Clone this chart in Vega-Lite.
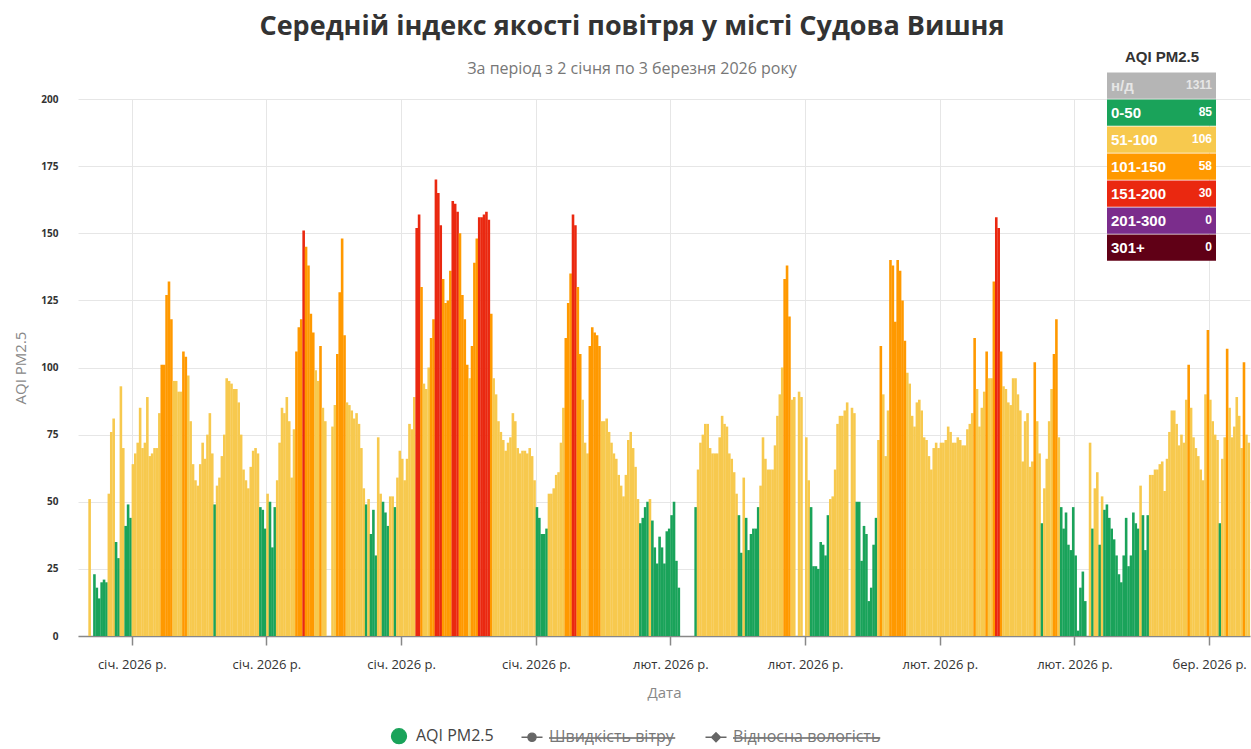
{
"$schema":"https://vega.github.io/schema/vega-lite/v6.json",
"width":1172,"height":537,
"autosize":{"type":"none"},
"padding":{"left":78,"top":99,"right":1,"bottom":113},
"background":"white",
"title":{"text":"Середній індекс якості повітря у місті Судова Вишня","subtitle":"За період з 2 січня по 3 березня 2026 року","anchor":"middle","frame":"bounds","font":"Open Sans","fontSize":27,"fontWeight":"bold","color":"#333333","subtitleFont":"Open Sans","subtitleFontSize":16,"subtitleColor":"#777777","subtitlePadding":20,"offset":-28},
"data":{"values":[
{"t":"2026-01-02T18:00","v":51,"c":"51-100"},
{"t":"2026-01-03T00:00","v":23,"c":"0-50"},{"t":"2026-01-03T03:00","v":18,"c":"0-50"},{"t":"2026-01-03T06:00","v":14,"c":"0-50"},{"t":"2026-01-03T09:00","v":20,"c":"0-50"},{"t":"2026-01-03T12:00","v":21,"c":"0-50"},{"t":"2026-01-03T15:00","v":20,"c":"0-50"},{"t":"2026-01-03T18:00","v":53,"c":"51-100"},{"t":"2026-01-03T21:00","v":76,"c":"51-100"},
{"t":"2026-01-04T00:00","v":81,"c":"51-100"},{"t":"2026-01-04T03:00","v":35,"c":"0-50"},{"t":"2026-01-04T06:00","v":29,"c":"0-50"},{"t":"2026-01-04T09:00","v":93,"c":"51-100"},{"t":"2026-01-04T12:00","v":70,"c":"51-100"},{"t":"2026-01-04T15:00","v":41,"c":"0-50"},{"t":"2026-01-04T18:00","v":49,"c":"0-50"},{"t":"2026-01-04T21:00","v":44,"c":"0-50"},
{"t":"2026-01-05T00:00","v":64,"c":"51-100"},{"t":"2026-01-05T03:00","v":68,"c":"51-100"},{"t":"2026-01-05T06:00","v":72,"c":"51-100"},{"t":"2026-01-05T09:00","v":85,"c":"51-100"},{"t":"2026-01-05T12:00","v":70,"c":"51-100"},{"t":"2026-01-05T15:00","v":72,"c":"51-100"},{"t":"2026-01-05T18:00","v":89,"c":"51-100"},{"t":"2026-01-05T21:00","v":67,"c":"51-100"},
{"t":"2026-01-06T00:00","v":68,"c":"51-100"},{"t":"2026-01-06T03:00","v":70,"c":"51-100"},{"t":"2026-01-06T06:00","v":70,"c":"51-100"},{"t":"2026-01-06T09:00","v":83,"c":"51-100"},{"t":"2026-01-06T12:00","v":101,"c":"101-150"},{"t":"2026-01-06T15:00","v":101,"c":"101-150"},{"t":"2026-01-06T18:00","v":127,"c":"101-150"},{"t":"2026-01-06T21:00","v":132,"c":"101-150"},
{"t":"2026-01-07T00:00","v":118,"c":"101-150"},{"t":"2026-01-07T03:00","v":95,"c":"51-100"},{"t":"2026-01-07T06:00","v":95,"c":"51-100"},{"t":"2026-01-07T09:00","v":91,"c":"51-100"},{"t":"2026-01-07T12:00","v":91,"c":"51-100"},{"t":"2026-01-07T15:00","v":106,"c":"101-150"},{"t":"2026-01-07T18:00","v":104,"c":"101-150"},{"t":"2026-01-07T21:00","v":97,"c":"51-100"},
{"t":"2026-01-08T00:00","v":80,"c":"51-100"},{"t":"2026-01-08T03:00","v":64,"c":"51-100"},{"t":"2026-01-08T06:00","v":58,"c":"51-100"},{"t":"2026-01-08T09:00","v":56,"c":"51-100"},{"t":"2026-01-08T12:00","v":64,"c":"51-100"},{"t":"2026-01-08T15:00","v":72,"c":"51-100"},{"t":"2026-01-08T18:00","v":66,"c":"51-100"},{"t":"2026-01-08T21:00","v":75,"c":"51-100"},
{"t":"2026-01-09T00:00","v":83,"c":"51-100"},{"t":"2026-01-09T03:00","v":68,"c":"51-100"},{"t":"2026-01-09T06:00","v":49,"c":"0-50"},{"t":"2026-01-09T09:00","v":56,"c":"51-100"},{"t":"2026-01-09T12:00","v":59,"c":"51-100"},{"t":"2026-01-09T15:00","v":67,"c":"51-100"},{"t":"2026-01-09T18:00","v":75,"c":"51-100"},{"t":"2026-01-09T21:00","v":96,"c":"51-100"},
{"t":"2026-01-10T00:00","v":95,"c":"51-100"},{"t":"2026-01-10T03:00","v":94,"c":"51-100"},{"t":"2026-01-10T06:00","v":92,"c":"51-100"},{"t":"2026-01-10T09:00","v":92,"c":"51-100"},{"t":"2026-01-10T12:00","v":87,"c":"51-100"},{"t":"2026-01-10T15:00","v":75,"c":"51-100"},{"t":"2026-01-10T18:00","v":62,"c":"51-100"},{"t":"2026-01-10T21:00","v":58,"c":"51-100"},
{"t":"2026-01-11T00:00","v":55,"c":"51-100"},{"t":"2026-01-11T03:00","v":63,"c":"51-100"},{"t":"2026-01-11T06:00","v":69,"c":"51-100"},{"t":"2026-01-11T09:00","v":70,"c":"51-100"},{"t":"2026-01-11T12:00","v":68,"c":"51-100"},{"t":"2026-01-11T15:00","v":48,"c":"0-50"},{"t":"2026-01-11T18:00","v":47,"c":"0-50"},{"t":"2026-01-11T21:00","v":40,"c":"0-50"},
{"t":"2026-01-12T00:00","v":53,"c":"51-100"},{"t":"2026-01-12T03:00","v":50,"c":"0-50"},{"t":"2026-01-12T06:00","v":33,"c":"0-50"},{"t":"2026-01-12T09:00","v":48,"c":"0-50"},{"t":"2026-01-12T12:00","v":58,"c":"51-100"},{"t":"2026-01-12T15:00","v":72,"c":"51-100"},{"t":"2026-01-12T18:00","v":85,"c":"51-100"},{"t":"2026-01-12T21:00","v":83,"c":"51-100"},
{"t":"2026-01-13T00:00","v":89,"c":"51-100"},{"t":"2026-01-13T03:00","v":80,"c":"51-100"},{"t":"2026-01-13T06:00","v":59,"c":"51-100"},{"t":"2026-01-13T09:00","v":77,"c":"51-100"},{"t":"2026-01-13T12:00","v":106,"c":"101-150"},{"t":"2026-01-13T15:00","v":115,"c":"101-150"},{"t":"2026-01-13T18:00","v":118,"c":"101-150"},{"t":"2026-01-13T21:00","v":151,"c":"151-200"},
{"t":"2026-01-14T00:00","v":145,"c":"101-150"},{"t":"2026-01-14T03:00","v":138,"c":"101-150"},{"t":"2026-01-14T06:00","v":120,"c":"101-150"},{"t":"2026-01-14T09:00","v":113,"c":"101-150"},{"t":"2026-01-14T12:00","v":99,"c":"51-100"},{"t":"2026-01-14T15:00","v":95,"c":"51-100"},{"t":"2026-01-14T18:00","v":108,"c":"101-150"},{"t":"2026-01-14T21:00","v":85,"c":"51-100"},
{"t":"2026-01-15T00:00","v":80,"c":"51-100"},{"t":"2026-01-15T09:00","v":78,"c":"51-100"},{"t":"2026-01-15T12:00","v":86,"c":"51-100"},{"t":"2026-01-15T15:00","v":105,"c":"101-150"},{"t":"2026-01-15T18:00","v":128,"c":"101-150"},{"t":"2026-01-15T21:00","v":148,"c":"101-150"},
{"t":"2026-01-16T00:00","v":112,"c":"101-150"},{"t":"2026-01-16T03:00","v":87,"c":"51-100"},{"t":"2026-01-16T06:00","v":86,"c":"51-100"},{"t":"2026-01-16T09:00","v":84,"c":"51-100"},{"t":"2026-01-16T12:00","v":81,"c":"51-100"},{"t":"2026-01-16T15:00","v":83,"c":"51-100"},{"t":"2026-01-16T18:00","v":79,"c":"51-100"},{"t":"2026-01-16T21:00","v":70,"c":"51-100"},
{"t":"2026-01-17T00:00","v":55,"c":"51-100"},{"t":"2026-01-17T03:00","v":49,"c":"0-50"},{"t":"2026-01-17T06:00","v":51,"c":"51-100"},{"t":"2026-01-17T09:00","v":38,"c":"0-50"},{"t":"2026-01-17T12:00","v":47,"c":"0-50"},{"t":"2026-01-17T15:00","v":30,"c":"0-50"},{"t":"2026-01-17T18:00","v":74,"c":"51-100"},{"t":"2026-01-17T21:00","v":53,"c":"51-100"},
{"t":"2026-01-18T00:00","v":50,"c":"0-50"},{"t":"2026-01-18T03:00","v":46,"c":"0-50"},{"t":"2026-01-18T06:00","v":41,"c":"0-50"},{"t":"2026-01-18T09:00","v":52,"c":"51-100"},{"t":"2026-01-18T12:00","v":52,"c":"51-100"},{"t":"2026-01-18T15:00","v":48,"c":"0-50"},{"t":"2026-01-18T18:00","v":59,"c":"51-100"},{"t":"2026-01-18T21:00","v":69,"c":"51-100"},
{"t":"2026-01-19T00:00","v":66,"c":"51-100"},{"t":"2026-01-19T03:00","v":58,"c":"51-100"},{"t":"2026-01-19T06:00","v":66,"c":"51-100"},{"t":"2026-01-19T09:00","v":79,"c":"51-100"},{"t":"2026-01-19T12:00","v":77,"c":"51-100"},{"t":"2026-01-19T15:00","v":89,"c":"51-100"},{"t":"2026-01-19T18:00","v":152,"c":"151-200"},{"t":"2026-01-19T21:00","v":157,"c":"151-200"},
{"t":"2026-01-20T00:00","v":130,"c":"101-150"},{"t":"2026-01-20T03:00","v":94,"c":"51-100"},{"t":"2026-01-20T06:00","v":92,"c":"51-100"},{"t":"2026-01-20T09:00","v":100,"c":"51-100"},{"t":"2026-01-20T12:00","v":111,"c":"101-150"},{"t":"2026-01-20T15:00","v":118,"c":"101-150"},{"t":"2026-01-20T18:00","v":170,"c":"151-200"},{"t":"2026-01-20T21:00","v":165,"c":"151-200"},
{"t":"2026-01-21T00:00","v":153,"c":"151-200"},{"t":"2026-01-21T03:00","v":133,"c":"101-150"},{"t":"2026-01-21T06:00","v":124,"c":"101-150"},{"t":"2026-01-21T09:00","v":125,"c":"101-150"},{"t":"2026-01-21T12:00","v":136,"c":"101-150"},{"t":"2026-01-21T15:00","v":162,"c":"151-200"},{"t":"2026-01-21T18:00","v":161,"c":"151-200"},{"t":"2026-01-21T21:00","v":158,"c":"151-200"},
{"t":"2026-01-22T00:00","v":150,"c":"101-150"},{"t":"2026-01-22T03:00","v":127,"c":"101-150"},{"t":"2026-01-22T06:00","v":118,"c":"101-150"},{"t":"2026-01-22T09:00","v":101,"c":"101-150"},{"t":"2026-01-22T12:00","v":96,"c":"51-100"},{"t":"2026-01-22T15:00","v":108,"c":"101-150"},{"t":"2026-01-22T18:00","v":139,"c":"101-150"},{"t":"2026-01-22T21:00","v":148,"c":"101-150"},
{"t":"2026-01-23T00:00","v":156,"c":"151-200"},{"t":"2026-01-23T03:00","v":156,"c":"151-200"},{"t":"2026-01-23T06:00","v":157,"c":"151-200"},{"t":"2026-01-23T09:00","v":158,"c":"151-200"},{"t":"2026-01-23T12:00","v":155,"c":"151-200"},{"t":"2026-01-23T15:00","v":120,"c":"101-150"},{"t":"2026-01-23T18:00","v":96,"c":"51-100"},{"t":"2026-01-23T21:00","v":90,"c":"51-100"},
{"t":"2026-01-24T00:00","v":80,"c":"51-100"},{"t":"2026-01-24T03:00","v":76,"c":"51-100"},{"t":"2026-01-24T06:00","v":73,"c":"51-100"},{"t":"2026-01-24T09:00","v":69,"c":"51-100"},{"t":"2026-01-24T12:00","v":72,"c":"51-100"},{"t":"2026-01-24T15:00","v":74,"c":"51-100"},{"t":"2026-01-24T18:00","v":83,"c":"51-100"},{"t":"2026-01-24T21:00","v":80,"c":"51-100"},
{"t":"2026-01-25T00:00","v":70,"c":"51-100"},{"t":"2026-01-25T03:00","v":68,"c":"51-100"},{"t":"2026-01-25T06:00","v":69,"c":"51-100"},{"t":"2026-01-25T09:00","v":69,"c":"51-100"},{"t":"2026-01-25T12:00","v":68,"c":"51-100"},{"t":"2026-01-25T15:00","v":70,"c":"51-100"},{"t":"2026-01-25T18:00","v":67,"c":"51-100"},{"t":"2026-01-25T21:00","v":58,"c":"51-100"},
{"t":"2026-01-26T00:00","v":48,"c":"0-50"},{"t":"2026-01-26T03:00","v":44,"c":"0-50"},{"t":"2026-01-26T06:00","v":38,"c":"0-50"},{"t":"2026-01-26T09:00","v":38,"c":"0-50"},{"t":"2026-01-26T12:00","v":40,"c":"0-50"},{"t":"2026-01-26T15:00","v":53,"c":"51-100"},{"t":"2026-01-26T18:00","v":53,"c":"51-100"},{"t":"2026-01-26T21:00","v":55,"c":"51-100"},
{"t":"2026-01-27T00:00","v":60,"c":"51-100"},{"t":"2026-01-27T03:00","v":61,"c":"51-100"},{"t":"2026-01-27T06:00","v":72,"c":"51-100"},{"t":"2026-01-27T09:00","v":85,"c":"51-100"},{"t":"2026-01-27T12:00","v":111,"c":"101-150"},{"t":"2026-01-27T15:00","v":124,"c":"101-150"},{"t":"2026-01-27T18:00","v":135,"c":"101-150"},{"t":"2026-01-27T21:00","v":157,"c":"151-200"},
{"t":"2026-01-28T00:00","v":153,"c":"151-200"},{"t":"2026-01-28T03:00","v":130,"c":"101-150"},{"t":"2026-01-28T06:00","v":105,"c":"101-150"},{"t":"2026-01-28T09:00","v":88,"c":"51-100"},{"t":"2026-01-28T12:00","v":72,"c":"51-100"},{"t":"2026-01-28T15:00","v":68,"c":"51-100"},{"t":"2026-01-28T18:00","v":108,"c":"101-150"},{"t":"2026-01-28T21:00","v":115,"c":"101-150"},
{"t":"2026-01-29T00:00","v":113,"c":"101-150"},{"t":"2026-01-29T03:00","v":112,"c":"101-150"},{"t":"2026-01-29T06:00","v":108,"c":"101-150"},{"t":"2026-01-29T09:00","v":80,"c":"51-100"},{"t":"2026-01-29T12:00","v":80,"c":"51-100"},{"t":"2026-01-29T15:00","v":81,"c":"51-100"},{"t":"2026-01-29T18:00","v":76,"c":"51-100"},{"t":"2026-01-29T21:00","v":72,"c":"51-100"},
{"t":"2026-01-30T00:00","v":68,"c":"51-100"},{"t":"2026-01-30T03:00","v":66,"c":"51-100"},{"t":"2026-01-30T06:00","v":60,"c":"51-100"},{"t":"2026-01-30T09:00","v":56,"c":"51-100"},{"t":"2026-01-30T12:00","v":52,"c":"51-100"},{"t":"2026-01-30T15:00","v":60,"c":"51-100"},{"t":"2026-01-30T18:00","v":73,"c":"51-100"},{"t":"2026-01-30T21:00","v":76,"c":"51-100"},
{"t":"2026-01-31T00:00","v":70,"c":"51-100"},{"t":"2026-01-31T03:00","v":63,"c":"51-100"},{"t":"2026-01-31T06:00","v":51,"c":"51-100"},{"t":"2026-01-31T09:00","v":42,"c":"0-50"},{"t":"2026-01-31T12:00","v":44,"c":"0-50"},{"t":"2026-01-31T15:00","v":48,"c":"0-50"},{"t":"2026-01-31T18:00","v":50,"c":"0-50"},{"t":"2026-01-31T21:00","v":51,"c":"51-100"},
{"t":"2026-02-01T00:00","v":43,"c":"0-50"},{"t":"2026-02-01T03:00","v":33,"c":"0-50"},{"t":"2026-02-01T06:00","v":27,"c":"0-50"},{"t":"2026-02-01T09:00","v":37,"c":"0-50"},{"t":"2026-02-01T12:00","v":33,"c":"0-50"},{"t":"2026-02-01T15:00","v":27,"c":"0-50"},{"t":"2026-02-01T18:00","v":39,"c":"0-50"},{"t":"2026-02-01T21:00","v":40,"c":"0-50"},
{"t":"2026-02-02T00:00","v":45,"c":"0-50"},{"t":"2026-02-02T03:00","v":50,"c":"0-50"},{"t":"2026-02-02T06:00","v":28,"c":"0-50"},{"t":"2026-02-02T09:00","v":18,"c":"0-50"},
{"t":"2026-02-03T06:00","v":48,"c":"0-50"},{"t":"2026-02-03T09:00","v":62,"c":"51-100"},{"t":"2026-02-03T12:00","v":72,"c":"51-100"},{"t":"2026-02-03T15:00","v":75,"c":"51-100"},{"t":"2026-02-03T18:00","v":79,"c":"51-100"},{"t":"2026-02-03T21:00","v":79,"c":"51-100"},
{"t":"2026-02-04T00:00","v":70,"c":"51-100"},{"t":"2026-02-04T03:00","v":68,"c":"51-100"},{"t":"2026-02-04T06:00","v":68,"c":"51-100"},{"t":"2026-02-04T09:00","v":68,"c":"51-100"},{"t":"2026-02-04T12:00","v":74,"c":"51-100"},{"t":"2026-02-04T15:00","v":82,"c":"51-100"},{"t":"2026-02-04T18:00","v":79,"c":"51-100"},{"t":"2026-02-04T21:00","v":78,"c":"51-100"},
{"t":"2026-02-05T00:00","v":68,"c":"51-100"},{"t":"2026-02-05T03:00","v":66,"c":"51-100"},{"t":"2026-02-05T06:00","v":61,"c":"51-100"},{"t":"2026-02-05T09:00","v":53,"c":"51-100"},{"t":"2026-02-05T12:00","v":45,"c":"0-50"},{"t":"2026-02-05T15:00","v":31,"c":"0-50"},{"t":"2026-02-05T18:00","v":59,"c":"51-100"},{"t":"2026-02-05T21:00","v":44,"c":"0-50"},
{"t":"2026-02-06T00:00","v":32,"c":"0-50"},{"t":"2026-02-06T03:00","v":38,"c":"0-50"},{"t":"2026-02-06T06:00","v":40,"c":"0-50"},{"t":"2026-02-06T09:00","v":40,"c":"0-50"},{"t":"2026-02-06T12:00","v":48,"c":"0-50"},{"t":"2026-02-06T15:00","v":56,"c":"51-100"},{"t":"2026-02-06T18:00","v":74,"c":"51-100"},{"t":"2026-02-06T21:00","v":66,"c":"51-100"},
{"t":"2026-02-07T00:00","v":62,"c":"51-100"},{"t":"2026-02-07T03:00","v":62,"c":"51-100"},{"t":"2026-02-07T06:00","v":62,"c":"51-100"},{"t":"2026-02-07T09:00","v":71,"c":"51-100"},{"t":"2026-02-07T12:00","v":82,"c":"51-100"},{"t":"2026-02-07T15:00","v":90,"c":"51-100"},{"t":"2026-02-07T18:00","v":100,"c":"51-100"},{"t":"2026-02-07T21:00","v":133,"c":"101-150"},
{"t":"2026-02-08T00:00","v":138,"c":"101-150"},{"t":"2026-02-08T03:00","v":119,"c":"101-150"},{"t":"2026-02-08T06:00","v":88,"c":"51-100"},{"t":"2026-02-08T09:00","v":89,"c":"51-100"},{"t":"2026-02-08T15:00","v":91,"c":"51-100"},{"t":"2026-02-08T18:00","v":89,"c":"51-100"},
{"t":"2026-02-09T00:00","v":74,"c":"51-100"},{"t":"2026-02-09T03:00","v":58,"c":"51-100"},{"t":"2026-02-09T06:00","v":48,"c":"0-50"},{"t":"2026-02-09T09:00","v":26,"c":"0-50"},{"t":"2026-02-09T12:00","v":26,"c":"0-50"},{"t":"2026-02-09T15:00","v":25,"c":"0-50"},{"t":"2026-02-09T18:00","v":35,"c":"0-50"},{"t":"2026-02-09T21:00","v":34,"c":"0-50"},
{"t":"2026-02-10T00:00","v":30,"c":"0-50"},{"t":"2026-02-10T03:00","v":45,"c":"0-50"},{"t":"2026-02-10T06:00","v":51,"c":"51-100"},{"t":"2026-02-10T09:00","v":52,"c":"51-100"},{"t":"2026-02-10T12:00","v":62,"c":"51-100"},{"t":"2026-02-10T15:00","v":79,"c":"51-100"},{"t":"2026-02-10T18:00","v":82,"c":"51-100"},{"t":"2026-02-10T21:00","v":82,"c":"51-100"},
{"t":"2026-02-11T00:00","v":84,"c":"51-100"},{"t":"2026-02-11T03:00","v":87,"c":"51-100"},{"t":"2026-02-11T09:00","v":85,"c":"51-100"},{"t":"2026-02-11T12:00","v":83,"c":"51-100"},{"t":"2026-02-11T15:00","v":50,"c":"0-50"},{"t":"2026-02-11T18:00","v":50,"c":"0-50"},{"t":"2026-02-11T21:00","v":28,"c":"0-50"},
{"t":"2026-02-12T00:00","v":41,"c":"0-50"},{"t":"2026-02-12T03:00","v":38,"c":"0-50"},{"t":"2026-02-12T06:00","v":13,"c":"0-50"},{"t":"2026-02-12T09:00","v":18,"c":"0-50"},{"t":"2026-02-12T12:00","v":34,"c":"0-50"},{"t":"2026-02-12T15:00","v":44,"c":"0-50"},{"t":"2026-02-12T18:00","v":73,"c":"51-100"},{"t":"2026-02-12T21:00","v":108,"c":"101-150"},
{"t":"2026-02-13T00:00","v":90,"c":"51-100"},{"t":"2026-02-13T03:00","v":67,"c":"51-100"},{"t":"2026-02-13T06:00","v":84,"c":"51-100"},{"t":"2026-02-13T09:00","v":140,"c":"101-150"},{"t":"2026-02-13T12:00","v":138,"c":"101-150"},{"t":"2026-02-13T15:00","v":117,"c":"101-150"},{"t":"2026-02-13T18:00","v":140,"c":"101-150"},{"t":"2026-02-13T21:00","v":136,"c":"101-150"},
{"t":"2026-02-14T00:00","v":125,"c":"101-150"},{"t":"2026-02-14T03:00","v":110,"c":"101-150"},{"t":"2026-02-14T06:00","v":98,"c":"51-100"},{"t":"2026-02-14T09:00","v":94,"c":"51-100"},{"t":"2026-02-14T12:00","v":82,"c":"51-100"},{"t":"2026-02-14T15:00","v":78,"c":"51-100"},{"t":"2026-02-14T18:00","v":87,"c":"51-100"},{"t":"2026-02-14T21:00","v":88,"c":"51-100"},
{"t":"2026-02-15T00:00","v":84,"c":"51-100"},{"t":"2026-02-15T03:00","v":74,"c":"51-100"},{"t":"2026-02-15T06:00","v":73,"c":"51-100"},{"t":"2026-02-15T09:00","v":67,"c":"51-100"},{"t":"2026-02-15T12:00","v":62,"c":"51-100"},{"t":"2026-02-15T15:00","v":70,"c":"51-100"},{"t":"2026-02-15T18:00","v":72,"c":"51-100"},{"t":"2026-02-15T21:00","v":70,"c":"51-100"},
{"t":"2026-02-16T00:00","v":72,"c":"51-100"},{"t":"2026-02-16T03:00","v":72,"c":"51-100"},{"t":"2026-02-16T06:00","v":73,"c":"51-100"},{"t":"2026-02-16T09:00","v":78,"c":"51-100"},{"t":"2026-02-16T12:00","v":76,"c":"51-100"},{"t":"2026-02-16T15:00","v":72,"c":"51-100"},{"t":"2026-02-16T18:00","v":72,"c":"51-100"},{"t":"2026-02-16T21:00","v":74,"c":"51-100"},
{"t":"2026-02-17T00:00","v":73,"c":"51-100"},{"t":"2026-02-17T03:00","v":71,"c":"51-100"},{"t":"2026-02-17T06:00","v":71,"c":"51-100"},{"t":"2026-02-17T09:00","v":77,"c":"51-100"},{"t":"2026-02-17T12:00","v":79,"c":"51-100"},{"t":"2026-02-17T15:00","v":83,"c":"51-100"},{"t":"2026-02-17T18:00","v":111,"c":"101-150"},{"t":"2026-02-17T21:00","v":92,"c":"51-100"},
{"t":"2026-02-18T00:00","v":78,"c":"51-100"},{"t":"2026-02-18T03:00","v":85,"c":"51-100"},{"t":"2026-02-18T06:00","v":91,"c":"51-100"},{"t":"2026-02-18T09:00","v":106,"c":"101-150"},{"t":"2026-02-18T12:00","v":96,"c":"51-100"},{"t":"2026-02-18T15:00","v":96,"c":"51-100"},{"t":"2026-02-18T18:00","v":132,"c":"101-150"},{"t":"2026-02-18T21:00","v":156,"c":"151-200"},
{"t":"2026-02-19T00:00","v":152,"c":"151-200"},{"t":"2026-02-19T03:00","v":106,"c":"101-150"},{"t":"2026-02-19T06:00","v":93,"c":"51-100"},{"t":"2026-02-19T09:00","v":92,"c":"51-100"},{"t":"2026-02-19T12:00","v":87,"c":"51-100"},{"t":"2026-02-19T15:00","v":86,"c":"51-100"},{"t":"2026-02-19T18:00","v":96,"c":"51-100"},{"t":"2026-02-19T21:00","v":96,"c":"51-100"},
{"t":"2026-02-20T00:00","v":90,"c":"51-100"},{"t":"2026-02-20T03:00","v":84,"c":"51-100"},{"t":"2026-02-20T06:00","v":65,"c":"51-100"},{"t":"2026-02-20T09:00","v":80,"c":"51-100"},{"t":"2026-02-20T12:00","v":83,"c":"51-100"},{"t":"2026-02-20T15:00","v":63,"c":"51-100"},{"t":"2026-02-20T18:00","v":65,"c":"51-100"},{"t":"2026-02-20T21:00","v":102,"c":"101-150"},
{"t":"2026-02-21T00:00","v":80,"c":"51-100"},{"t":"2026-02-21T03:00","v":68,"c":"51-100"},{"t":"2026-02-21T06:00","v":42,"c":"0-50"},{"t":"2026-02-21T09:00","v":55,"c":"51-100"},{"t":"2026-02-21T12:00","v":66,"c":"51-100"},{"t":"2026-02-21T15:00","v":80,"c":"51-100"},{"t":"2026-02-21T18:00","v":92,"c":"51-100"},{"t":"2026-02-21T21:00","v":105,"c":"101-150"},
{"t":"2026-02-22T00:00","v":118,"c":"101-150"},{"t":"2026-02-22T03:00","v":74,"c":"51-100"},{"t":"2026-02-22T06:00","v":48,"c":"0-50"},{"t":"2026-02-22T09:00","v":40,"c":"0-50"},{"t":"2026-02-22T12:00","v":46,"c":"0-50"},{"t":"2026-02-22T15:00","v":34,"c":"0-50"},{"t":"2026-02-22T18:00","v":32,"c":"0-50"},{"t":"2026-02-22T21:00","v":48,"c":"0-50"},
{"t":"2026-02-23T00:00","v":30,"c":"0-50"},{"t":"2026-02-23T03:00","v":2,"c":"0-50"},{"t":"2026-02-23T06:00","v":18,"c":"0-50"},{"t":"2026-02-23T09:00","v":24,"c":"0-50"},{"t":"2026-02-23T12:00","v":13,"c":"0-50"},{"t":"2026-02-23T18:00","v":72,"c":"51-100"},{"t":"2026-02-23T21:00","v":40,"c":"0-50"},
{"t":"2026-02-24T00:00","v":55,"c":"51-100"},{"t":"2026-02-24T03:00","v":61,"c":"51-100"},{"t":"2026-02-24T06:00","v":34,"c":"0-50"},{"t":"2026-02-24T09:00","v":52,"c":"51-100"},{"t":"2026-02-24T12:00","v":47,"c":"0-50"},{"t":"2026-02-24T15:00","v":49,"c":"0-50"},{"t":"2026-02-24T18:00","v":44,"c":"0-50"},{"t":"2026-02-24T21:00","v":40,"c":"0-50"},
{"t":"2026-02-25T00:00","v":36,"c":"0-50"},{"t":"2026-02-25T03:00","v":30,"c":"0-50"},{"t":"2026-02-25T06:00","v":23,"c":"0-50"},{"t":"2026-02-25T09:00","v":20,"c":"0-50"},{"t":"2026-02-25T12:00","v":30,"c":"0-50"},{"t":"2026-02-25T15:00","v":44,"c":"0-50"},{"t":"2026-02-25T18:00","v":26,"c":"0-50"},{"t":"2026-02-25T21:00","v":30,"c":"0-50"},
{"t":"2026-02-26T00:00","v":46,"c":"0-50"},{"t":"2026-02-26T03:00","v":42,"c":"0-50"},{"t":"2026-02-26T06:00","v":40,"c":"0-50"},{"t":"2026-02-26T09:00","v":56,"c":"51-100"},{"t":"2026-02-26T12:00","v":45,"c":"0-50"},{"t":"2026-02-26T15:00","v":32,"c":"0-50"},{"t":"2026-02-26T18:00","v":45,"c":"0-50"},{"t":"2026-02-26T21:00","v":60,"c":"51-100"},
{"t":"2026-02-27T00:00","v":60,"c":"51-100"},{"t":"2026-02-27T03:00","v":62,"c":"51-100"},{"t":"2026-02-27T06:00","v":62,"c":"51-100"},{"t":"2026-02-27T09:00","v":64,"c":"51-100"},{"t":"2026-02-27T12:00","v":65,"c":"51-100"},{"t":"2026-02-27T15:00","v":54,"c":"51-100"},{"t":"2026-02-27T18:00","v":66,"c":"51-100"},{"t":"2026-02-27T21:00","v":76,"c":"51-100"},
{"t":"2026-02-28T00:00","v":84,"c":"51-100"},{"t":"2026-02-28T03:00","v":84,"c":"51-100"},{"t":"2026-02-28T06:00","v":79,"c":"51-100"},{"t":"2026-02-28T09:00","v":71,"c":"51-100"},{"t":"2026-02-28T12:00","v":75,"c":"51-100"},{"t":"2026-02-28T15:00","v":72,"c":"51-100"},{"t":"2026-02-28T18:00","v":88,"c":"51-100"},{"t":"2026-02-28T21:00","v":101,"c":"101-150"},
{"t":"2026-03-01T00:00","v":85,"c":"51-100"},{"t":"2026-03-01T03:00","v":74,"c":"51-100"},{"t":"2026-03-01T06:00","v":70,"c":"51-100"},{"t":"2026-03-01T09:00","v":67,"c":"51-100"},{"t":"2026-03-01T12:00","v":62,"c":"51-100"},{"t":"2026-03-01T15:00","v":58,"c":"51-100"},{"t":"2026-03-01T18:00","v":90,"c":"51-100"},{"t":"2026-03-01T21:00","v":114,"c":"101-150"},
{"t":"2026-03-02T00:00","v":88,"c":"51-100"},{"t":"2026-03-02T03:00","v":80,"c":"51-100"},{"t":"2026-03-02T06:00","v":75,"c":"51-100"},{"t":"2026-03-02T09:00","v":73,"c":"51-100"},{"t":"2026-03-02T12:00","v":42,"c":"0-50"},{"t":"2026-03-02T15:00","v":66,"c":"51-100"},{"t":"2026-03-02T18:00","v":74,"c":"51-100"},{"t":"2026-03-02T21:00","v":107,"c":"101-150"},
{"t":"2026-03-03T00:00","v":85,"c":"51-100"},{"t":"2026-03-03T03:00","v":74,"c":"51-100"},{"t":"2026-03-03T06:00","v":78,"c":"51-100"},{"t":"2026-03-03T09:00","v":89,"c":"51-100"},{"t":"2026-03-03T12:00","v":82,"c":"51-100"},{"t":"2026-03-03T15:00","v":70,"c":"51-100"},{"t":"2026-03-03T18:00","v":102,"c":"101-150"},{"t":"2026-03-03T21:00","v":75,"c":"51-100"},
{"t":"2026-03-04T00:00","v":72,"c":"51-100"}
]},
"mark":{"type":"bar","strokeWidth":0,"width":2.6,"xOffset":1.2},
"encoding":{
"x":{"field":"t","type":"temporal",
 "scale":{"nice":false,"padding":0,"domain":[{"year":2026,"month":1,"date":2,"hours":5},{"year":2026,"month":3,"date":4,"hours":3}]},
 "axis":{"title":"Дата","values":[{"year":2026,"month":1,"date":5},{"year":2026,"month":1,"date":12},{"year":2026,"month":1,"date":19},{"year":2026,"month":1,"date":26},{"year":2026,"month":2,"date":2},{"year":2026,"month":2,"date":9},{"year":2026,"month":2,"date":16},{"year":2026,"month":2,"date":23},{"year":2026,"month":3,"date":2}],
 "labelExpr":"(month(datum.value) == 0 ? 'січ.' : month(datum.value) == 1 ? 'лют.' : 'бер.') + ' 2026 р.'",
 "labelFont":"Open Sans","labelFontSize":13,"labelColor":"#333333","labelPadding":13,"labelFlush":false,
 "tickSize":9,"tickColor":"#888888","tickWidth":1.5,"domainColor":"#888888","domainWidth":1.5,
 "grid":true,"gridColor":"#e6e6e6","titleFont":"Open Sans","titleColor":"#888888","titleFontSize":15,"titleFontWeight":"normal","titlePadding":14}},
"y":{"field":"v","type":"quantitative","scale":{"domain":[0,200]},
 "axis":{"title":"AQI PM2.5","values":[0,25,50,75,100,125,150,175,200],"labelFont":"Open Sans","labelFontSize":10,"labelFontWeight":"bold","labelColor":"#333333","labelPadding":20,"labelFlush":false,"ticks":false,"domain":false,"gridColor":"#e6e6e6","titleFont":"Open Sans","titleColor":"#888888","titleFontSize":15,"titleFontWeight":"normal","titlePadding":12}},
"color":{"field":"c","type":"nominal","scale":{"domain":["н/д","0-50","51-100","101-150","151-200","201-300","301+"],"range":["#b5b5b5","#1aa35a","#f7c94e","#ff9900","#ea2810","#7b2d8c","#600016"]},
 "legend":{"orient":"none","legendX":1029,"legendY":-49,"direction":"vertical","padding":0,
  "title":"AQI PM2.5","titleFont":"Liberation Sans","titleFontSize":15,"titleFontWeight":"bold","titleColor":"#333333","titleAnchor":"middle","titleAlign":"center","titlePadding":8,
  "symbolType":"M-1,-1.05H7.72V1.05H-1Z","symbolSize":625,"symbolStrokeWidth":0,"symbolOpacity":1,
  "labelFont":"Liberation Sans","labelFontSize":15,"labelFontWeight":"bold","labelColor":"#ffffff","labelOffset":-21,"labelAlign":"left","labelBaseline":"middle","labelLimit":200,"rowPadding":0,
  "encoding":{"labels":{"fill":{"value":{"expr":"datum.label == 'н/д' ? '#e6e6e6' : '#ffffff'"}}}}}},
"strokeDash":{"field":"c","type":"nominal","scale":{"domain":["н/д","0-50","51-100","101-150","151-200","201-300","301+","—"]},
 "legend":{"orient":"none","legendX":1029,"legendY":-24,"direction":"vertical","padding":0,"title":null,
  "symbolType":"M-1,-1.05H7.72V1.05H-1Z","symbolSize":625,"symbolStrokeWidth":0,"symbolOpacity":0,
  "labelFont":"Liberation Sans","labelFontSize":12,"labelFontWeight":"bold","labelColor":"#ffffff","labelOffset":80,"labelAlign":"right","labelBaseline":"middle","rowPadding":0,
  "labelExpr":"datum.label == 'н/д' ? '1311' : datum.label == '0-50' ? '85' : datum.label == '51-100' ? '106' : datum.label == '101-150' ? '58' : datum.label == '151-200' ? '30' : datum.label == '201-300' ? '0' : datum.label == '301+' ? '0' : ''",
  "encoding":{"labels":{"dy":{"value":-3},"fill":{"value":{"expr":"datum.label == 'н/д' ? '#e6e6e6' : '#ffffff'"}}}}}},
"opacity":{"datum":"AQI PM2.5","type":"nominal","scale":{"type":"ordinal","domain":["AQI PM2.5","Швидкість вітру","Відносна вологість"],"range":[1,1,1]},
 "legend":{"orient":"none","legendX":312.5,"legendY":628.5,"direction":"horizontal","padding":0,"title":null,
  "symbolSize":225,"symbolStrokeWidth":1.5,"labelFont":"Open Sans","labelFontSize":16,"labelOffset":8.5,"columnPadding":24,
  "encoding":{
   "symbols":{
    "shape":{"value":{"expr":"datum.value === 'AQI PM2.5' ? 'circle' : datum.value === 'Швидкість вітру' ? 'M-1.4,0H1.4M0.55,0A0.55,0.55 0 1 1 -0.55,0A0.55,0.55 0 1 1 0.55,0ZM2.27,0.1H19.1' : 'M-1.4,0H1.4M0,-0.6L0.6,0L0,0.6L-0.6,0ZM2.27,0.1H21.9'"}},
    "fill":{"value":{"expr":"datum.value === 'AQI PM2.5' ? '#1aa35a' : '#666666'"}},
    "stroke":{"value":{"expr":"datum.value === 'AQI PM2.5' ? '#1aa35a' : '#666666'"}},
    "strokeWidth":{"value":1.3},"opacity":{"value":1},"fillOpacity":{"value":1},"strokeOpacity":{"value":1}},
   "labels":{"fill":{"value":{"expr":"datum.value === 'AQI PM2.5' ? '#444444' : '#777777'"}}}}}}
},
"config":{"view":{"stroke":null},"font":"Open Sans"}
}
